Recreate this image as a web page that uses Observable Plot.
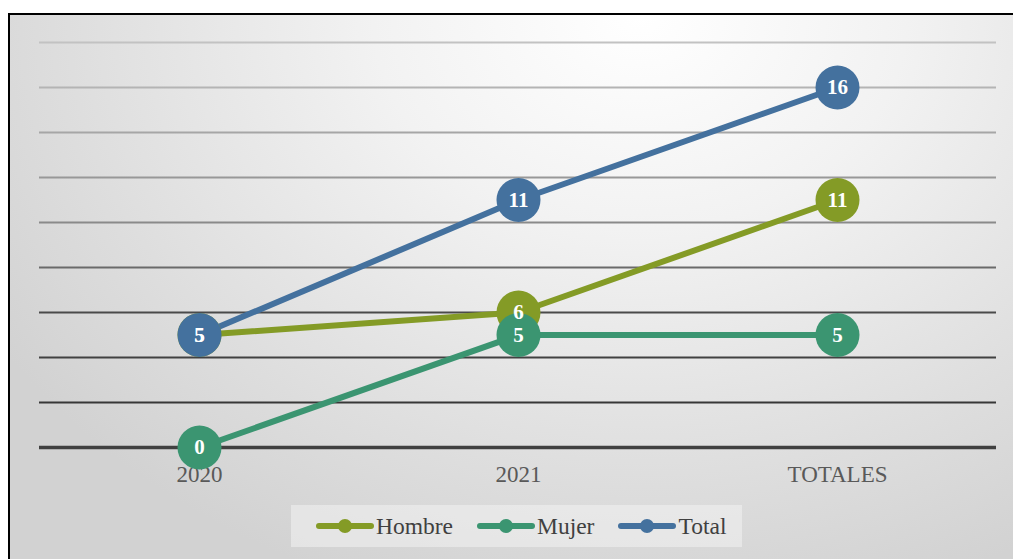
<!DOCTYPE html>
<html>
<head>
<meta charset="utf-8">
<script src="https://cdn.jsdelivr.net/npm/d3@7"></script>
<script src="https://cdn.jsdelivr.net/npm/@observablehq/plot@0.6"></script>
<style>
  html, body { margin: 0; padding: 0; background: #fff; width: 1013px; height: 559px; overflow: hidden; }
  #bg { position: absolute; left: 8px; top: 13px; width: 1020px; height: 560px; box-sizing: border-box;
        border: 2.5px solid #000;
        background: radial-gradient(ellipse 75% 110% at 62% 0%, #ffffff 0%, #f2f2f2 35%, #dedede 75%, #d2d2d2 100%); }
  #chart { position: absolute; left: 0; top: 0; }
  #legend { position: absolute; left: 291px; top: 505px; width: 451px; height: 42px; background: rgba(242,242,242,0.55);
            display: flex; align-items: center; padding-left: 25px; box-sizing: border-box;
            font-family: "Liberation Serif", serif; font-size: 23.5px; color: #404040; }
  .item { display: flex; align-items: center; margin-right: 24px; }
  .item svg { margin-right: 2px; }
</style>
</head>
<body>
<div id="bg"></div>
<div id="chart"></div>
<div id="legend"></div>
<script>
const categories = ["2020", "2021", "TOTALES"];
const seriesNames = ["Hombre", "Mujer", "Total"];
const hombre = [5, 6, 11];
const mujer = [0, 5, 5];
const total = [5, 11, 16];
const yTicks = [0, 2, 4, 6, 8, 10, 12, 14, 16, 18];

const colors = { Hombre: "#849b26", Mujer: "#3b9571", Total: "#44719e" };
const seriesValues = { Hombre: hombre, Mujer: mujer, Total: total };

const rows = seriesNames.flatMap(s => categories.map((c, i) => ({ series: s, cat: c, value: seriesValues[s][i] })));

const gridColor = d3.scaleLinear().domain([0, 6, 10, 18]).range(["#2e2e2e", "#4a4a4a", "#8a8a8a", "#c2c2c2"]);

const font = "Liberation Serif, serif";

const plot = Plot.plot({
  width: 1013,
  height: 500,
  marginLeft: 39,
  marginRight: 17,
  marginTop: 42,
  marginBottom: 53,
  style: { fontFamily: font, fontSize: "23px", background: "transparent", overflow: "visible" },
  x: { domain: categories, type: "point", padding: 0.5, label: null },
  y: { domain: [0, 18], axis: null },
  color: { domain: seriesNames, range: seriesNames.map(s => colors[s]) },
  marks: [
    Plot.ruleY(yTicks.filter(v => v > 0), { y: d => d, stroke: d => gridColor(d), strokeWidth: 2 }),
    Plot.ruleY([0], { stroke: "#404040", strokeWidth: 3.5 }),
    Plot.axisX({ tickSize: 0, tickPadding: 18, fill: "#595959", fontSize: 23, fontFamily: font, label: null }),
    Plot.line(rows, { x: "cat", y: "value", z: "series", stroke: "series", strokeWidth: 6, strokeLinecap: "round" }),
    Plot.dot(rows, { x: "cat", y: "value", fill: "series", r: 22, stroke: "none" }),
    Plot.text(rows, { x: "cat", y: "value", text: d => String(d.value), fill: "white", fontWeight: "bold", fontSize: 21, fontFamily: font })
  ]
});
document.getElementById("chart").appendChild(plot);

const legend = document.getElementById("legend");
seriesNames.forEach(s => {
  const item = document.createElement("div");
  item.className = "item";
  item.innerHTML = `<svg width="58" height="16"><line x1="3" y1="8" x2="55" y2="8" stroke="${colors[s]}" stroke-width="6" stroke-linecap="round"/><circle cx="29" cy="8" r="7" fill="${colors[s]}"/></svg><span>${s}</span>`;
  legend.appendChild(item);
});
</script>
</body>
</html>
